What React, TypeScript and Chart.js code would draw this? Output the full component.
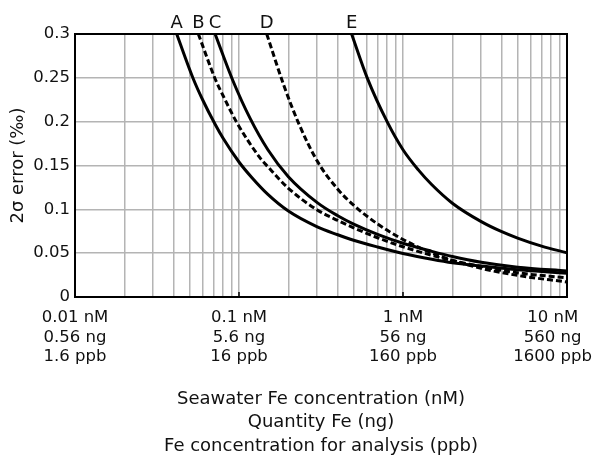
import React, { useEffect, useRef } from "react";
import { Chart, registerables } from "chart.js";

Chart.register(...registerables);

// ---- data ----
const aConc = [0.0417, 0.0526, 0.06, 0.0715, 0.08, 0.1, 0.12, 0.15, 0.2, 0.3, 0.4, 0.5, 0.7, 1, 1.5, 2, 3, 5, 7, 10];
const aErr = [0.3, 0.249, 0.225, 0.197, 0.181, 0.154, 0.136, 0.117, 0.098, 0.08, 0.071, 0.0647, 0.057, 0.0497, 0.043, 0.039, 0.0353, 0.031, 0.029, 0.027];

const bConc = [0.0565, 0.0715, 0.08, 0.097, 0.134, 0.15, 0.2, 0.3, 0.4, 0.5, 0.7, 1, 1.5, 2, 3, 5, 10];
const bErr = [0.3, 0.249, 0.2296, 0.199, 0.159, 0.1486, 0.124, 0.0993, 0.0873, 0.0789, 0.0676, 0.0573, 0.0475, 0.0417, 0.0348, 0.0276, 0.0219];

const cConc = [0.0715, 0.0917, 0.1167, 0.15, 0.2, 0.3, 0.4, 0.5, 0.7, 1, 1.5, 2, 3, 5, 10];
const cErr = [0.3, 0.247, 0.204, 0.168, 0.1373, 0.1077, 0.0927, 0.0832, 0.0715, 0.0613, 0.0521, 0.0462, 0.0396, 0.034, 0.0296];

const dConc = [0.1476, 0.188, 0.23, 0.3, 0.4, 0.5, 0.7, 1, 1.5, 2, 3, 5, 10];
const dErr = [0.3, 0.241, 0.199, 0.155, 0.123, 0.1047, 0.0833, 0.0656, 0.0502, 0.0418, 0.0327, 0.0246, 0.0171];

const eConc = [0.486, 0.605, 0.8, 1, 1.24, 1.5, 2, 3, 4, 5, 7, 10];
const eErr = [0.3, 0.25, 0.2, 0.168, 0.145, 0.128, 0.107, 0.086, 0.0745, 0.0672, 0.058, 0.0504];

const seriesNames = ["A", "B", "C", "D", "E"];
const seriesDashed = [false, true, false, true, false];

const xGridValues = [
  0.01, 0.02, 0.03, 0.04, 0.05, 0.06, 0.07, 0.08, 0.09,
  0.1, 0.2, 0.3, 0.4, 0.5, 0.6, 0.7, 0.8, 0.9,
  1, 2, 3, 4, 5, 6, 7, 8, 9, 10,
];
const xLabelValues = [0.01, 0.1, 1, 10];
const xLabelNM = ["0.01 nM", "0.1 nM", "1 nM", "10 nM"];
const xLabelNg = ["0.56 ng", "5.6 ng", "56 ng", "560 ng"];
const xLabelPpb = ["1.6 ppb", "16 ppb", "160 ppb", "1600 ppb"];
const xTitleLines = [
  "Seawater Fe concentration (nM)",
  "Quantity Fe (ng)",
  "Fe concentration for analysis (ppb)",
];
const yTitle = "2σ error (‰)";
const yMin = 0;
const yMax = 0.3;
const yStep = 0.05;

const FONT = "'DejaVu Sans', sans-serif";
const TEXT = "#111";

function pairs(xs: number[], ys: number[]) {
  return xs.map((x, i) => ({ x, y: ys[i] }));
}

const overlay = {
  id: "overlay",
  afterDraw(chart: any) {
    const { ctx, chartArea } = chart;
    const xs = chart.scales.x;
    ctx.save();
    // frame
    ctx.strokeStyle = "#000";
    ctx.lineWidth = 2;
    ctx.strokeRect(chartArea.left, chartArea.top, chartArea.right - chartArea.left, chartArea.bottom - chartArea.top);
    // small decade ticks
    ctx.lineWidth = 1.5;
    xLabelValues.forEach((v) => {
      const px = xs.getPixelForValue(v);
      if (px > chartArea.left + 2 && px < chartArea.right - 2) {
        ctx.beginPath();
        ctx.moveTo(px, chartArea.bottom);
        ctx.lineTo(px, chartArea.bottom - 5);
        ctx.stroke();
      }
    });
    // x labels
    ctx.fillStyle = TEXT;
    ctx.textBaseline = "middle";
    ctx.textAlign = "center";
    ctx.font = `16.5px ${FONT}`;
    const W = chart.width;
    xLabelValues.forEach((v, i) => {
      const lines = [xLabelNM[i], xLabelNg[i], xLabelPpb[i]];
      const maxW = Math.max(...lines.map((l) => ctx.measureText(l).width));
      let cx = xs.getPixelForValue(v);
      cx = Math.min(cx, W - 3 - maxW / 2);
      lines.forEach((l, j) => {
        ctx.fillText(l, cx, chartArea.bottom + 21 + j * 19.5);
      });
    });
    // x title
    ctx.font = `18px ${FONT}`;
    const mid = (chartArea.left + chartArea.right) / 2;
    xTitleLines.forEach((l, j) => {
      ctx.fillText(l, mid, chartArea.bottom + 102 + j * 23.5);
    });
    // curve letters
    ctx.font = `18px ${FONT}`;
    chart.data.datasets.forEach((ds: any, i: number) => {
      const p = ds.data[0];
      const px = xs.getPixelForValue(p.x);
      ctx.fillText(seriesNames[i], px, chartArea.top - 11);
    });
    ctx.restore();
  },
};

export default function App() {
  const ref = useRef<HTMLCanvasElement | null>(null);
  useEffect(() => {
    if (!ref.current) return;
    const all = [
      pairs(aConc, aErr),
      pairs(bConc, bErr),
      pairs(cConc, cErr),
      pairs(dConc, dErr),
      pairs(eConc, eErr),
    ];
    const chart = new Chart(ref.current, {
      type: "scatter",
      data: {
        datasets: all.map((d, i) => ({
          label: seriesNames[i],
          data: d,
          showLine: true,
          borderColor: "#000",
          borderWidth: 3,
          borderDash: seriesDashed[i] ? [6, 3] : [],
          pointRadius: 0,
          cubicInterpolationMode: "monotone",
          fill: false,
        })),
      },
      options: {
        animation: false,
        responsive: false,
        layout: { padding: { top: 34, right: 28, left: 0, bottom: 0 } },
        plugins: { legend: { display: false }, tooltip: { enabled: false } },
        scales: {
          x: {
            type: "logarithmic",
            min: 0.01,
            max: 10,
            afterBuildTicks: (scale: any) => {
              scale.ticks = xGridValues.map((v) => ({ value: v }));
            },
            afterFit: (scale: any) => {
              scale.height = 158;
            },
            ticks: { display: false },
            grid: { color: "#b4b4b4", lineWidth: 1.5, drawTicks: false },
            border: { display: false },
          },
          y: {
            min: yMin,
            max: yMax,
            afterFit: (scale: any) => {
              scale.width = 75;
            },
            ticks: {
              stepSize: yStep,
              padding: 5,
              color: TEXT,
              font: { family: FONT, size: 16.5 },
              callback: (v: any) => String(Number(Number(v).toFixed(2))),
            },
            grid: { color: "#b4b4b4", lineWidth: 1.5, drawTicks: false },
            border: { display: false },
            title: {
              display: true,
              text: yTitle,
              color: TEXT,
              font: { family: FONT, size: 18 },
              padding: { top: 8, bottom: 0 },
            },
          },
        },
      },
      plugins: [overlay],
    } as any);
    return () => chart.destroy();
  }, []);
  return (
    <div style={{ position: "fixed", left: 0, top: 0, width: 595, height: 455, background: "#fff" }}>
      <canvas ref={ref} width={595} height={455} />
    </div>
  );
}
